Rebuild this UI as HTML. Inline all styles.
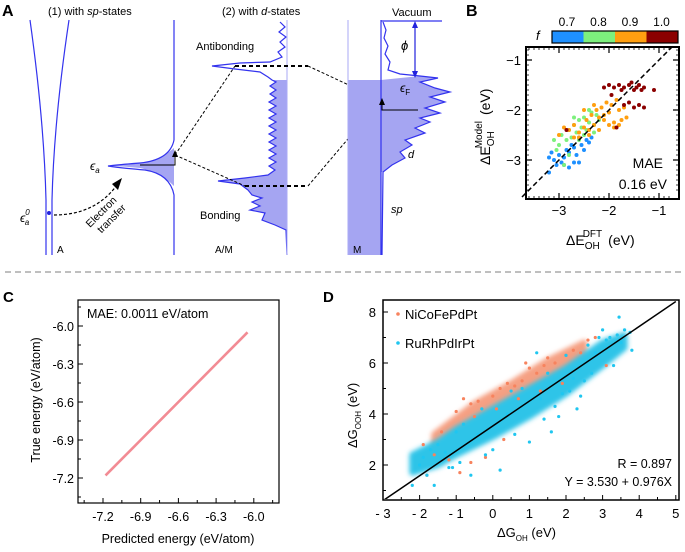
<!DOCTYPE html>
<html><head><meta charset="utf-8"><style>
html,body{margin:0;padding:0;background:#fff;}
svg{display:block;font-family:"Liberation Sans",Arial,sans-serif;}
</style></head><body>
<svg id="fig" width="685" height="552" viewBox="0 0 685 552" xmlns="http://www.w3.org/2000/svg">
<defs><filter id="blur" x="-10%" y="-10%" width="120%" height="120%"><feGaussianBlur stdDeviation="2.5"/></filter>
<clipPath id="dclip"><rect x="384" y="301" width="294" height="198"/></clipPath></defs>
<g>
<text x="2" y="16" font-size="16" font-weight="bold">A</text>
<text x="48" y="15" font-size="11">(1) with <tspan font-style="italic">sp</tspan>-states</text>
<text x="222" y="15" font-size="11">(2) with <tspan font-style="italic">d</tspan>-states</text>
<path d="M30,20 Q44,120 46,200 L46,255 M69,20 Q54,120 52,200 L52,255" fill="none" stroke="#3333ee" stroke-width="1.2"/>
<circle cx="49" cy="213" r="2" fill="#2222dd"/>
<text x="57" y="253" font-size="10">A</text>
<text x="20" y="222" font-size="12" font-style="italic">ϵ<tspan font-size="8" dy="-7">0</tspan><tspan font-size="8" dx="-5" dy="10">a</tspan></text>
<path d="M54,215 Q95,215 117,185" fill="none" stroke="#000" stroke-width="1.2" stroke-dasharray="3,2"/>
<polygon points="122,178 112,184 118,190" fill="#000"/>
<text transform="translate(90,228) rotate(-45)" font-size="10.5"><tspan x="0" y="0">Electron</tspan><tspan x="4" y="12">transfer</tspan></text>
<path d="M174,166 L174,186 Q160,172 140,168 Q120,166 108,166 Q125,164 140,163 Q160,160 174,148 Z" fill="#a5a5f2" stroke="none"/>
<path d="M174,20 L174,140 Q170,160 140,163 Q115,165 108,166 Q120,168 145,170 Q170,174 174,195 L174,255" fill="none" stroke="#3333ee" stroke-width="1.2"/>
<text x="90" y="170" font-size="12" font-style="italic">ϵ<tspan font-size="8" dy="3">a</tspan></text>
<path d="M140,165 L175,165 L175,155" fill="none" stroke="#000" stroke-width="1"/>
<polygon points="175,150 172,157 178,157" fill="#000"/>
<polygon points="272,80 276,82 270,86 276,90 270,94 276,98 269,102 276,106 269,110 276,114 269,118 276,122 269,126 276,130 269,134 276,138 269,142 276,146 269,150 276,154 269,158 276,162 269,166 275,170 268,175 245,178 218,181 240,184 248,190 252,195 262,198 252,202 260,206 250,210 265,213 262,220 275,225 286,230 287,230 287,80" fill="#a5a5f2"/>
<polyline points="280,22 285,27 279,32 286,37 280,42 285,47 278,52 282,57 270,62 240,63 212,66 235,69 260,72 268,77 272,80 276,82 270,86 276,90 270,94 276,98 269,102 276,106 269,110 276,114 269,118 276,122 269,126 276,130 269,134 276,138 269,142 276,146 269,150 276,154 269,158 276,162 269,166 275,170 268,175 245,178 218,181 240,184 248,190 252,195 262,198 252,202 260,206 250,210 265,213 262,220 275,225 286,230 287,255" fill="none" stroke="#3333ee" stroke-width="1.2"/>
<line x1="287" y1="20" x2="287" y2="255" stroke="#aaaaf5" stroke-width="1"/>
<text x="196" y="50" font-size="11">Antibonding</text>
<text x="200" y="219" font-size="11">Bonding</text>
<text x="215" y="253" font-size="10">A/M</text>
<path d="M235,66 L308,66 M245,186 L308,186" stroke="#000" stroke-width="2" stroke-dasharray="4,3"/>
<path d="M175,155 L235,66 M175,155 L245,186 M308,66 L381,100 M308,186 L381,100" stroke="#000" stroke-width="1" stroke-dasharray="3,2" fill="none"/>
<rect x="348" y="80" width="33" height="175" fill="#a5a5f2"/>
<polygon points="381,80 420,76 438,78 420,82 435,88 450,92 430,97 445,102 425,108 440,113 420,118 430,122 415,128 425,133 405,140 412,145 400,152 405,158 392,165 383,172 381,172" fill="#a5a5f2"/>
<line x1="348" y1="20" x2="348" y2="255" stroke="#aaaaf5"/>
<line x1="381" y1="20" x2="381" y2="255" stroke="#3333ee" stroke-width="1.2"/>
<polyline points="383,22 386,30 384,38 388,46 385,54 390,62 388,70 400,74 420,76 438,78 420,82 435,88 450,92 430,97 445,102 425,108 440,113 420,118 430,122 415,128 425,133 405,140 412,145 400,152 405,158 392,165 383,172 382,255" fill="none" stroke="#3333ee" stroke-width="1.2"/>
<line x1="381" y1="21" x2="442" y2="21" stroke="#3333ee" stroke-width="1.2"/>
<text x="392" y="16" font-size="11">Vacuum</text>
<line x1="415" y1="25" x2="415" y2="74" stroke="#2222dd" stroke-width="1.2"/>
<polygon points="415,21 412,28 418,28" fill="#2222dd"/>
<polygon points="415,78 412,71 418,71" fill="#2222dd"/>
<text x="401" y="50" font-size="13" font-style="italic">ϕ</text>
<text x="400" y="92" font-size="12" font-style="italic">ϵ<tspan font-size="8" dy="3" font-style="normal">F</tspan></text>
<path d="M418,110 L382,110 L382,103" fill="none" stroke="#000" stroke-width="1"/>
<polygon points="382,98 379,105 385,105" fill="#000"/>
<text x="408" y="158" font-size="11" font-style="italic">d</text>
<text x="391" y="213" font-size="11" font-style="italic">sp</text>
<text x="353" y="253" font-size="10">M</text>
</g>
<line x1="5" y1="272" x2="682" y2="272" stroke="#999" stroke-width="1.2" stroke-dasharray="6,4"/>
<text x="466" y="16" font-size="16" font-weight="bold">B</text>
<text x="3" y="302" font-size="15" font-weight="bold">C</text>
<text x="323" y="302" font-size="15" font-weight="bold">D</text>
<g id="pb"></g>
<g id="pc"></g>
<g id="pd"></g>
</svg>
<script>
// ---------- Panel B data ----------
const bBlueX=[-3.2,-3.1,-3.15,-3.0,-2.95,-2.9,-2.85,-2.8,-2.75,-2.7,-2.65,-2.6,-2.55,-2.5,-2.45,-2.4,-2.9,-3.05,-2.7,-2.6,-2.35,-3.2,-2.8];
const bBlueY=[-2.95,-3.0,-2.85,-2.9,-3.05,-2.95,-2.8,-2.85,-2.7,-2.75,-2.9,-3.05,-2.7,-2.8,-2.6,-2.65,-3.1,-3.1,-3.05,-2.55,-2.55,-3.25,-3.15];
const bGreenX=[-3.1,-3.0,-2.95,-2.85,-2.8,-2.75,-2.7,-2.65,-2.6,-2.55,-2.5,-2.45,-2.4,-2.35,-2.3,-2.25,-2.2,-2.5,-2.6,-2.8,-2.9,-2.3,-2.4,-2.7,-3.05];
const bGreenY=[-2.6,-2.7,-2.5,-2.6,-2.4,-2.55,-2.3,-2.45,-2.2,-2.35,-2.15,-2.4,-2.25,-2.05,-2.3,-2.1,-2.2,-2.5,-2.6,-2.9,-3.1,-2.45,-2.0,-2.15,-2.8];
const bOrangeX=[-3.0,-2.9,-2.8,-2.7,-2.6,-2.5,-2.45,-2.4,-2.35,-2.3,-2.25,-2.2,-2.15,-2.1,-2.05,-2.0,-1.95,-1.9,-1.85,-1.8,-1.75,-1.7,-1.65,-2.6,-2.2,-2.0,-1.9,-2.3,-2.5,-1.8,-2.1,-2.4,-2.7];
const bOrangeY=[-2.5,-2.35,-2.4,-2.3,-2.45,-2.35,-2.2,-2.4,-2.1,-2.3,-2.0,-2.15,-1.95,-2.2,-1.85,-2.05,-1.9,-2.25,-1.8,-2.0,-2.2,-1.95,-2.15,-2.55,-2.4,-2.3,-2.35,-1.9,-2.0,-2.3,-2.1,-2.5,-2.55];
const bRedX=[-2.1,-2.0,-1.9,-1.8,-1.7,-1.6,-1.5,-1.45,-1.4,-1.35,-1.3,-1.75,-1.55,-1.1,-1.7,-1.6,-1.5,-1.4,-1.3,-2.85,-1.85,-1.95];
const bRedY=[-1.55,-1.5,-1.55,-1.5,-1.55,-1.5,-1.6,-1.55,-1.5,-1.6,-1.55,-1.6,-1.45,-1.6,-1.9,-1.85,-1.95,-1.9,-1.95,-2.4,-2.35,-1.7];
const bTicks=[-3,-2,-1];
const cbLabels=["0.7","0.8","0.9","1.0"];
const cbColors=["#1e90ff","#7df07d","#ff9f10","#8b0000"];
// ---------- Panel C data ----------
const cPred=[-7.18,-7.1,-7.0,-6.9,-6.8,-6.7,-6.6,-6.5,-6.4,-6.3,-6.2,-6.1,-6.05];
const cTrue=[-7.18,-7.1,-7.0,-6.9,-6.8,-6.7,-6.6,-6.5,-6.4,-6.3,-6.2,-6.1,-6.05];
const cTicks=[-7.2,-6.9,-6.6,-6.3,-6.0];
const cTickLabels=["-7.2","-6.9","-6.6","-6.3","-6.0"];
// ---------- Panel D data ----------
const dBandX=[-2.2,-1.5,-1.0,0.0,1.0,2.0,3.0,3.6];
const dBandLo=[1.7,2.0,2.4,3.1,3.9,4.8,5.9,6.6];
const dBandHi=[2.4,2.9,3.4,4.2,5.0,5.8,6.8,7.1];
const dOrBandX=[-1.6,-0.5,0.5,1.5,2.5];
const dOrBandLo=[2.3,3.2,4.1,5.0,6.0];
const dOrBandHi=[3.2,4.4,5.2,6.1,6.8];
const dCyanX=[-2.2,-1.9,-1.6,-1.5,-1.2,-0.8,-0.6,0.2,0.5,1.0,1.5,1.6,2.0,2.3,2.6,2.8,3.0,3.2,3.3,3.45,3.6,3.75,3.8,2.5,1.9,1.2,0.8,-0.3,-1.0,-1.7,2.9,3.5,3.1,2.7,1.8,-2.0,-1.3,-0.4,0.4,1.3,2.2,3.4,-1.8,-1.1,-0.2,0.6,1.4,2.4,0.0,-0.9,1.7,2.1];
const dCyanY=[1.2,2.3,1.2,2.8,1.9,3.6,1.6,1.8,4.9,2.9,5.6,3.3,6.3,4.2,6.7,6.4,7.3,7.0,5.9,7.8,7.3,7.2,6.5,5.3,4.8,6.4,5.0,4.2,3.3,2.6,7.0,6.8,6.9,5.6,3.9,2.0,2.5,3.2,4.0,4.6,5.4,7.1,1.6,1.9,2.4,3.2,3.8,4.7,2.6,2.1,4.3,4.9];
const dOrX=[-1.9,-1.8,-1.4,-1.0,-0.9,-0.6,-0.4,0.0,0.2,0.4,0.6,0.8,1.0,0.9,1.2,1.4,1.5,1.7,2.0,2.2,2.4,2.6,2.8,3.1,0.3,-0.2,-0.6,-1.2,-0.5,0.1,0.7,1.3,-1.6,1.9,-0.8];
const dOrY=[2.8,1.6,3.3,4.1,1.7,4.4,4.5,4.7,5.0,5.2,5.1,5.3,5.8,6.0,5.6,5.9,6.2,6.0,6.3,6.5,6.4,6.9,7.0,5.9,3.0,2.3,2.1,2.2,3.9,4.2,4.6,4.9,2.4,5.2,4.6];
const dXTicks=[-3,-2,-1,0,1,2,3,4,5];
const dYTicks=[2,4,6,8];
const dFitA=3.530, dFitB=0.976;

const NS="http://www.w3.org/2000/svg";
function mk(parent,tag,attrs,text){const e=document.createElementNS(NS,tag);for(const k in attrs)e.setAttribute(k,attrs[k]);if(text!==undefined)e.textContent=text;parent.appendChild(e);return e;}

// ===== Panel B =====
(function(){
const g=document.getElementById('pb');
const bx=v=>559+(v+3)*50, by=v=>60-(v+1)*50;
let r=mk(g,'rect',{x:526,y:47,width:153,height:152,fill:'#fff',stroke:'#000','stroke-width':2});


for(let v=-3.6;v<=-0.7;v+=0.1){const x=bx(v);const y=by(v);
 let t=mk(g,'path',{d:`M${x},199 v-3 M${x},47 v3 M526,${y} h3 M679,${y} h-3`,stroke:'#000','stroke-width':0.8});
 
 }
bTicks.forEach(v=>{const x=bx(v),y=by(v);
 let t=mk(g,'path',{d:`M${x},199 v-6 M${x},47 v6 M526,${y} h6 M679,${y} h-6`,stroke:'#000','stroke-width':1.2});
 
 
 let a=mk(g,'text',{x:x,y:215,'font-size':13,'text-anchor':'middle'},'−'+Math.abs(v));
 
 
 let b=mk(g,'text',{x:521,y:y+5,'font-size':13,'text-anchor':'end'},'−'+Math.abs(v));
 
 });
const series=[[bBlueX,bBlueY,cbColors[0]],[bGreenX,bGreenY,cbColors[1]],[bOrangeX,bOrangeY,cbColors[2]],[bRedX,bRedY,cbColors[3]]];
series.forEach(s=>{s[0].forEach((x,i)=>{let c=mk(g,'circle',{cx:bx(x),cy:by(s[1][i]),r:2,fill:s[2]});
 
 });});
let l=mk(g,'line',{x1:bx(-3.74),y1:by(-3.74),x2:bx(-0.7),y2:by(-0.7),stroke:'#000','stroke-width':1.5,'stroke-dasharray':'5,3'});


let m=mk(g,'text',{x:663,y:168,'font-size':14,'text-anchor':'end'},'MAE');


let m2=mk(g,'text',{x:667,y:189,'font-size':14,'text-anchor':'end'},'0.16 eV');


cbColors.forEach((c,i)=>{let q=mk(g,'rect',{x:552+i*31.5,y:31,width:31.5,height:12,fill:c});
 
 
 let t=mk(g,'text',{x:567+i*31.5,y:26,'font-size':12,'text-anchor':'middle'},cbLabels[i]);
 
 });
let cbf=mk(g,'rect',{x:552,y:31,width:126,height:12,fill:'none',stroke:'#000','stroke-width':1.2});


let f=mk(g,'text',{x:536,y:40,'font-size':13,'font-style':'italic'},'f');


let xl=mk(g,'text',{x:566,y:245,'font-size':14});


xl.innerHTML='ΔE<tspan font-size="10" dy="4">OH</tspan><tspan font-size="10" dx="-17" dy="-12">DFT</tspan><tspan dx="6" dy="8">(eV)</tspan>';
let yl=mk(g,'text',{transform:'translate(490,165) rotate(-90)','font-size':14});


yl.innerHTML='ΔE<tspan font-size="10" dy="4">OH</tspan><tspan font-size="10" dx="-17" dy="-12">Model</tspan><tspan dx="6" dy="8">(eV)</tspan>';
})();

// ===== Panel C =====
(function(){
const g=document.getElementById('pc');
const cx=v=>103+(v+7.2)/0.3*37.7;
const cyy=v=>478-(v+7.2)/0.3*38;
let r=mk(g,'rect',{x:78,y:300,width:201,height:203,fill:'#fff',stroke:'#000','stroke-width':1.2});


for(let v=-7.35;v<=-5.84;v+=0.15){const x=cx(v),y=cyy(v);const maj=cTicks.some(t=>Math.abs(t-v)<0.01);const L=maj?5:3;
 let t=mk(g,'path',{d:`M${x},503 v-${L} M78,${y} h${L}`,stroke:'#000','stroke-width':1});
 
 }
cTicks.forEach((v,i)=>{let a=mk(g,'text',{x:cx(v),y:521,'font-size':12.5,'text-anchor':'middle'},cTickLabels[i]);
 
 
 let b=mk(g,'text',{x:74,y:cyy(v)+5,'font-size':12.5,'text-anchor':'end'},cTickLabels[i]);
 
 });
let pts=cPred.map((p,i)=>cx(p)+','+cyy(cTrue[i])).join(' ');
let pl=mk(g,'polyline',{points:pts,fill:'none',stroke:'#f28b94','stroke-width':2.6});


let m=mk(g,'text',{x:87,y:318,'font-size':12.5},'MAE: 0.0011 eV/atom');


let xl=mk(g,'text',{x:178,y:543,'font-size':12.5,'text-anchor':'middle'},'Predicted energy (eV/atom)');


let yl=mk(g,'text',{transform:'translate(40,400) rotate(-90)','font-size':12.5,'text-anchor':'middle'},'True energy (eV/atom)');


})();

// ===== Panel D =====
(function(){
const g=document.getElementById('pd');
const dx=v=>383+(v+3)*36.6, dy=v=>465-(v-2)*25.5;
let r=mk(g,'rect',{x:383,y:300,width:296,height:200,fill:'#fff',stroke:'none'});


const cg=mk(g,'g',{'clip-path':'url(#dclip)'});


function band(X,LO,HI,col,name){let p=X.map((x,i)=>dx(x)+','+dy(HI[i]));for(let i=X.length-1;i>=0;i--)p.push(dx(X[i])+','+dy(LO[i]));
 let b=mk(cg,'polygon',{points:p.join(' '),fill:col,stroke:col,'stroke-width':6,'stroke-linejoin':'round',filter:'url(#blur)'});
 
 }
band(dOrBandX,dOrBandLo,dOrBandHi,'#f5a083','d-nicofepdpt-density');
band(dBandX,dBandLo,dBandHi,'#2ec4e8','d-rurhpdirpt-density');
dOrX.forEach((x,i)=>{let c=mk(cg,'circle',{cx:dx(x),cy:dy(dOrY[i]),r:1.6,fill:'#f7835e'});
 
 });
dCyanX.forEach((x,i)=>{let c=mk(cg,'circle',{cx:dx(x),cy:dy(dCyanY[i]),r:1.6,fill:'#1fc6f0'});
 
 });
let fl=mk(cg,'line',{x1:dx(-3),y1:dy(dFitA+dFitB*-3),x2:dx(5),y2:dy(dFitA+dFitB*5),stroke:'#000','stroke-width':1.5});


let fr=mk(g,'rect',{x:383,y:300,width:296,height:200,fill:'none',stroke:'#000','stroke-width':1.5});


dXTicks.forEach(v=>{const x=dx(v);
 let t=mk(g,'path',{d:`M${x},500 v-5`+(v<5?` M${x+18.3},500 v-3`:''),stroke:'#000','stroke-width':1});
 
 
 let a=mk(g,'text',{x:x,y:518,'font-size':13,'text-anchor':'middle'},v<0?'- '+Math.abs(v):String(v));
 
 });
dYTicks.forEach(v=>{const y=dy(v);
 let t=mk(g,'path',{d:`M383,${y} h5 M383,${y+25.5} h3`,stroke:'#000','stroke-width':1});
 
 
 let a=mk(g,'text',{x:376,y:y+5,'font-size':13,'text-anchor':'end'},String(v));
 
 });
let lg1=mk(g,'circle',{cx:398,cy:314,r:1.8,fill:'#f7835e'});


let lt1=mk(g,'text',{x:405,y:319,'font-size':13},'NiCoFePdPt');


let lg2=mk(g,'circle',{cx:398,cy:343,r:1.8,fill:'#1fc6f0'});


let lt2=mk(g,'text',{x:405,y:348,'font-size':13},'RuRhPdIrPt');


let rr=mk(g,'text',{x:672,y:468,'font-size':12.5,'text-anchor':'end'},'R = 0.897');


let eq=mk(g,'text',{x:672,y:486,'font-size':12.5,'text-anchor':'end'},'Y = 3.530 + 0.976X');


let xl=mk(g,'text',{x:497,y:537,'font-size':13});


xl.innerHTML='ΔG<tspan font-size="8" dy="4">OH</tspan><tspan dy="-4"> (eV)</tspan>';
let yl=mk(g,'text',{transform:'translate(357,448) rotate(-90)','font-size':13});


yl.innerHTML='ΔG<tspan font-size="8" dy="4">OOH</tspan><tspan dy="-4"> (eV)</tspan>';
})();
</script>
</body></html>
